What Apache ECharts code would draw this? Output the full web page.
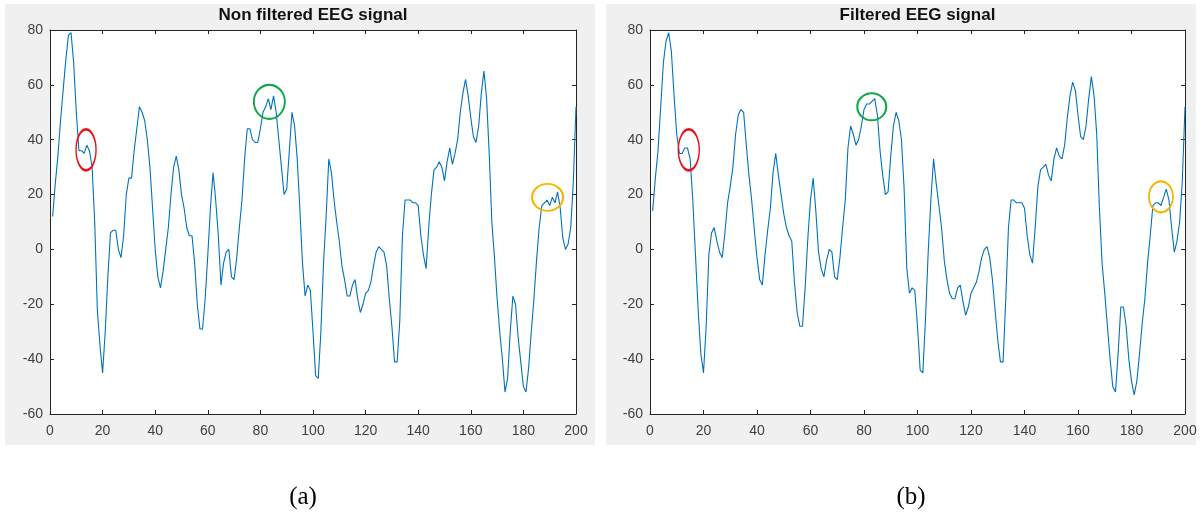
<!DOCTYPE html>
<html>
<head>
<meta charset="utf-8">
<script src="https://cdn.jsdelivr.net/npm/echarts@6/dist/echarts.min.js"></script>
<style>
  html, body { margin: 0; padding: 0; background: #fff; }
  #chart { width: 1201px; height: 522px; }
</style>
</head>
<body>
<div id="chart"></div>
<script>
// axis ticks (same for both plots)
const xTicks = [0, 20, 40, 60, 80, 100, 120, 140, 160, 180, 200]
const yTicks = [-60, -40, -20, 0, 20, 40, 60, 80]

// samples 1..200
const rawSignal = [
  12, 24, 34, 47, 58, 69, 78, 79, 68, 50,
  36, 36, 35, 38, 36, 30, 10, -22, -35, -45,
  -30, -10, 6, 7, 7, 0, -3, 5, 20, 26,
  26, 36, 44, 52, 50, 47, 40, 30, 15, 0,
  -10, -14, -8, 0, 8, 20, 30, 34, 29, 20,
  15, 8, 5, 5, -5, -20, -29, -29, -18, -2,
  15, 28, 18, 5, -13, -5, -1, 0, -10, -11,
  -3, 8, 18, 33, 44, 44, 40, 39, 39, 44,
  50, 52, 55, 51, 56, 50, 40, 30, 20, 22,
  36, 50, 45, 33, 15, -5, -17, -13, -15, -30,
  -46, -47, -30, -5, 12, 33, 28, 18, 10, 3,
  -6, -11, -17, -17, -13, -11, -18, -23, -20, -16,
  -15, -12, -6, -1, 1, 0, -1, -6, -18, -28,
  -41, -41, -26, 5, 18, 18, 18, 17, 17, 16,
  5, -2, -7, 8, 20, 29, 30, 32, 30, 25,
  32, 37, 31, 35, 40, 50, 57, 62, 56, 48,
  41, 39, 45, 57, 65, 55, 35, 10, -3, -18,
  -30, -40, -52, -47, -30, -17, -20, -32, -41, -50,
  -52, -43, -30, -18, -4, 8, 16, 17, 18, 16,
  19, 17, 21, 15, 4, 0, 2, 8, 25, 52
]

const filteredSignal = [
  14, 26, 36, 52, 68, 76, 79, 72, 56, 42,
  35, 35, 37, 37, 33, 18, -2, -22, -38, -45,
  -28, -2, 6, 8, 3, -1, -3, 6, 17, 23,
  30, 42, 49, 51, 50, 38, 27, 18, 7, -3,
  -11, -13, -2, 7, 15, 28, 35, 27, 20, 13,
  8, 5, 3, -12, -23, -28, -28, -14, 4, 18,
  26, 14, -1, -7, -10, -4, 0, -1, -10, -11,
  -3, 8, 18, 37, 45, 42, 38, 40, 45, 51,
  53, 53, 54, 55, 49, 36, 27, 20, 21, 34,
  45, 50, 47, 40, 22, -7, -16, -14, -15, -28,
  -44, -45, -25, -1, 18, 33, 24, 16, 8, -4,
  -11, -16, -18, -18, -14, -13, -19, -24, -21, -16,
  -14, -12, -8, -3, 0, 1, -3, -11, -22, -33,
  -41, -41, -18, 8, 18, 18, 17, 17, 17, 15,
  5, -2, -5, 8, 23, 29, 30, 31, 27, 25,
  33, 37, 34, 33, 38, 48, 56, 61, 58, 49,
  41, 40, 45, 55, 63, 56, 42, 15, -5, -16,
  -28, -40, -50, -52, -38, -21, -21, -28, -40, -48,
  -53, -48, -38, -27, -18, -5, 5, 16, 17, 17,
  16, 19, 22, 18, 8, -1, 3, 10, 25, 52
]

// centres of the highlight rings [x, value]: red, green, yellow
const rawHighlights = [[13.7, 36.3], [83.4, 53.8], [189.2, 19]]
const filteredHighlights = [[14.5, 36.3], [82.9, 52], [191, 19.2]]

const ringColors = ['#e8141b', '#10a84a', '#f7b500']

const panels = [
  {
    title: 'Non filtered EEG signal', caption: '(a)',
    data: rawSignal, rings: rawHighlights, ringSizes: [[20, 41], [31, 34], [31, 27]],
    left: 50, width: 526, bgLeft: 5, bgRight: 595
  },
  {
    title: 'Filtered EEG signal', caption: '(b)',
    data: filteredSignal, rings: filteredHighlights, ringSizes: [[21, 41], [29, 27], [24, 31]],
    left: 650, width: 535, bgLeft: 606, bgRight: 1196
  }
]

const gridTop = 30
const gridHeight = 384
const axisColor = '#262626'
const labelColor = '#404040'

// ellipse outline, stretched to symbolSize
const ellipsePath = 'path://M1,0 C1,0.5523 0.5523,1 0,1 C-0.5523,1 -1,0.5523 -1,0 C-1,-0.5523 -0.5523,-1 0,-1 C0.5523,-1 1,-0.5523 1,0 Z'

const chart = echarts.init(document.getElementById('chart'))

const grid = []
const xAxis = []
const yAxis = []
const series = []
const elements = []

panels.forEach((p, i) => {
  grid.push({
    left: p.left, top: gridTop, width: p.width, height: gridHeight,
    show: true, backgroundColor: '#fff', borderWidth: 0
  })

  const xBase = {
    type: 'value', gridIndex: i,
    min: xTicks[0], max: xTicks[xTicks.length - 1], interval: xTicks[1] - xTicks[0],
    axisLine: { show: true, onZero: false, lineStyle: { color: axisColor, width: 1 } },
    axisTick: { show: true, inside: true, length: 4, lineStyle: { color: axisColor } },
    splitLine: { show: false }
  }
  xAxis.push(Object.assign({}, xBase, {
    position: 'bottom',
    axisLabel: { color: labelColor, fontSize: 14, fontFamily: 'Liberation Sans, Arial', margin: 10 }
  }))
  xAxis.push(Object.assign({}, xBase, { position: 'top', axisLabel: { show: false } }))

  const yBase = {
    type: 'value', gridIndex: i,
    min: yTicks[0], max: yTicks[yTicks.length - 1], interval: yTicks[1] - yTicks[0],
    axisLine: { show: true, onZero: false, lineStyle: { color: axisColor, width: 1 } },
    axisTick: { show: true, inside: true, length: 4, lineStyle: { color: axisColor } },
    splitLine: { show: false }
  }
  yAxis.push(Object.assign({}, yBase, {
    position: 'left',
    axisLabel: { color: labelColor, fontSize: 14, fontFamily: 'Liberation Sans, Arial', margin: 7 }
  }))
  yAxis.push(Object.assign({}, yBase, { position: 'right', axisLabel: { show: false } }))

  series.push({
    type: 'line',
    xAxisIndex: i * 2,
    yAxisIndex: i * 2,
    data: p.data.map((v, k) => [k + 1, v]),
    symbol: 'none',
    lineStyle: { color: '#0072BD', width: 1.1 },
    animation: false,
    markPoint: {
      silent: true,
      animation: false,
      data: p.rings.map((c, k) => ({
        coord: c,
        symbol: ellipsePath,
        symbolSize: p.ringSizes[k],
        itemStyle: { color: 'rgba(0,0,0,0)', borderColor: ringColors[k], borderWidth: 2 },
        label: { show: false }
      }))
    }
  })

  // grey figure background behind each axes
  elements.push({
    type: 'rect', z: -10,
    shape: { x: p.bgLeft, y: 4, width: p.bgRight - p.bgLeft, height: 441 },
    style: { fill: '#f0f0f0' }
  })
  elements.push({
    type: 'text', z: 100,
    x: p.left + p.width / 2, y: 15,
    style: {
      text: p.title, fill: '#111', font: 'bold 17px "Liberation Sans", Arial',
      textAlign: 'center', textVerticalAlign: 'middle'
    }
  })
  elements.push({
    type: 'text', z: 100,
    x: i === 0 ? 303 : 911, y: 497,
    style: {
      text: p.caption, fill: '#000', font: '25px "Liberation Serif", "Times New Roman", serif',
      textAlign: 'center', textVerticalAlign: 'middle'
    }
  })
})

chart.setOption({
  backgroundColor: '#fff',
  animation: false,
  grid: grid,
  xAxis: xAxis,
  yAxis: yAxis,
  series: series,
  graphic: { elements: elements }
})
</script>
</body>
</html>
